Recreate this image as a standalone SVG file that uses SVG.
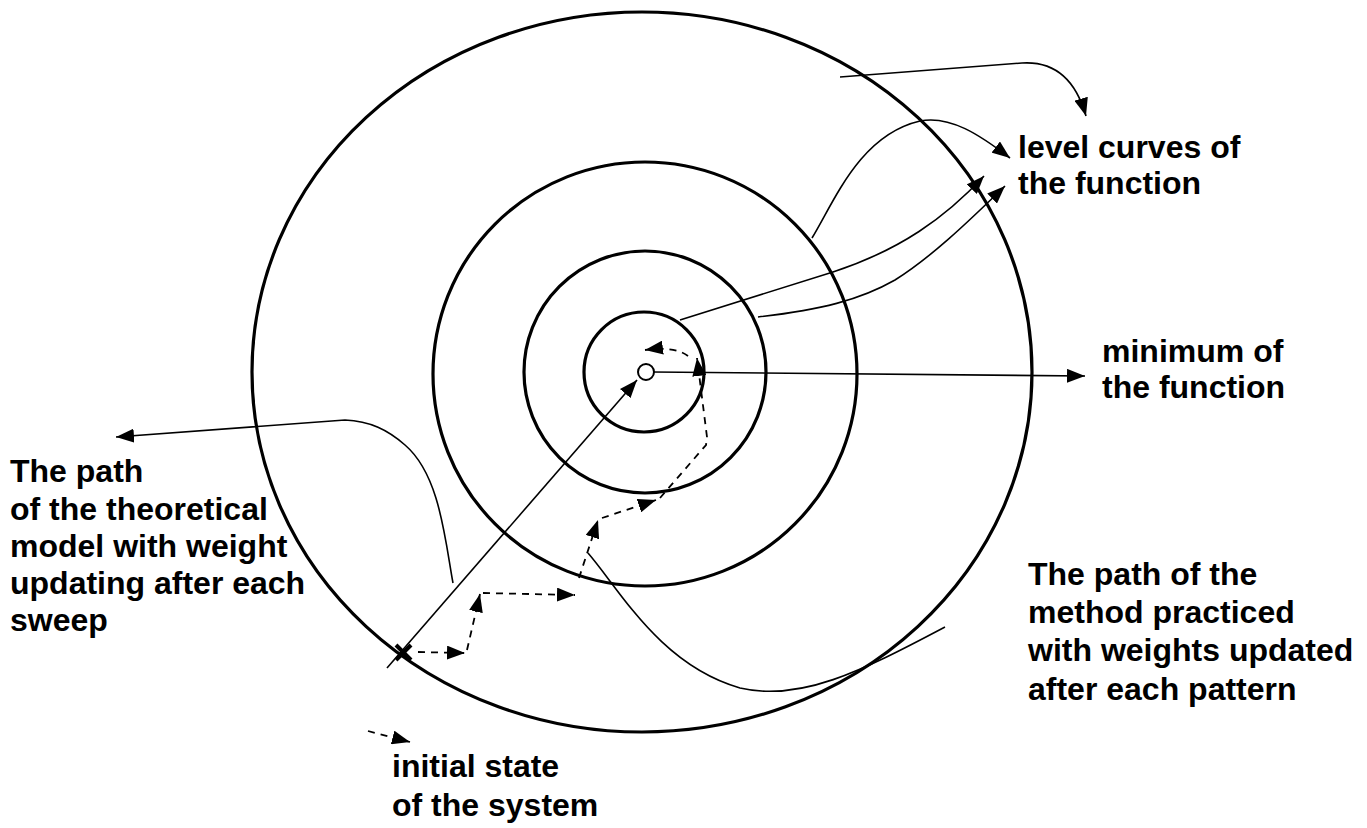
<svg xmlns="http://www.w3.org/2000/svg" width="1367" height="828" viewBox="0 0 1367 828">
<style>
.lvl{fill:none;stroke:#000;stroke-width:3.2}
.thin{fill:none;stroke:#000;stroke-width:1.6}
.dash{fill:none;stroke:#000;stroke-width:1.8;stroke-dasharray:7 6}
.lbl{font-family:"Liberation Sans",Arial,sans-serif;font-weight:bold;font-size:32px;fill:#000}
</style>
<defs>
<marker id="ah" markerUnits="userSpaceOnUse" markerWidth="20" markerHeight="14" refX="18" refY="7" orient="auto">
<path d="M0,0 L18,7 L0,14 z" fill="#000"/>
</marker>
</defs>
<rect width="1367" height="828" fill="#fff"/>
<g id="level-curves">
<g id="curve-outer"><ellipse class="lvl" cx="642" cy="372" rx="390" ry="360"/></g>
<g id="curve-3"><circle class="lvl" cx="645" cy="374" r="212"/></g>
<g id="curve-2"><circle class="lvl" cx="645" cy="372" r="121"/></g>
<g id="curve-1"><circle class="lvl" cx="644" cy="372" r="60"/></g>
</g>
<g id="minimum"><circle cx="646" cy="372" r="8" fill="#fff" stroke="#000" stroke-width="2"/></g>
<g id="initial-state">
<line x1="396" y1="645" x2="411" y2="660" stroke="#000" stroke-width="4"/>
<line x1="411" y1="645" x2="396" y2="660" stroke="#000" stroke-width="4"/>
</g>
<g id="connectors">
<path class="thin" d="M840,77 L1022,63 Q1070,60 1086,116" marker-end="url(#ah)"/>
<path class="thin" d="M812,238 C835,200 860,135 920,121 C950,115 980,135 1010,158" marker-end="url(#ah)"/>
<path class="thin" d="M680,320 L833,272 C900,250 945,218 984,176" marker-end="url(#ah)"/>
<path class="thin" d="M758,317 C820,310 860,300 895,280 C930,258 965,225 1005,186" marker-end="url(#ah)"/>
<path class="thin" d="M653,372 L1085,376" marker-end="url(#ah)"/>
<path class="thin" d="M387,668 L637,380" marker-end="url(#ah)"/>
<path class="thin" d="M453,583 C445,540 440,475 405,445 C388,430 370,421 345,420 L116,437" marker-end="url(#ah)"/>
<path class="thin" d="M588,553 C620,590 660,665 740,688 C800,702 860,672 945,627"/>
<path class="dash" d="M418,652 L465,653" marker-end="url(#ah)"/>
<path class="dash" d="M467,650 L480,594" marker-end="url(#ah)"/>
<path class="dash" d="M483,593 L575,595" marker-end="url(#ah)"/>
<path class="dash" d="M579,578 L598,520" marker-end="url(#ah)"/>
<path class="dash" d="M602,518 L656,500" marker-end="url(#ah)"/>
<path class="dash" d="M660,498 L706,445 L707,437" />
<path class="dash" d="M707,437 L697,358" marker-end="url(#ah)"/>
<path class="dash" d="M688,356 Q675,346 645,350" marker-end="url(#ah)"/>
<path class="dash" d="M368,731 L410,742" marker-end="url(#ah)"/>
</g>
<g id="label-level"><text class="lbl" x="1018" y="158">level curves of</text><text class="lbl" x="1018" y="194">the function</text></g>
<g id="label-minimum"><text class="lbl" x="1102" y="362">minimum of</text><text class="lbl" x="1102" y="398">the function</text></g>
<g id="label-theoretical"><text class="lbl" x="10" y="482">The path</text><text class="lbl" x="10" y="520">of the theoretical</text><text class="lbl" x="10" y="557">model with weight</text><text class="lbl" x="10" y="594">updating after each</text><text class="lbl" x="10" y="631">sweep</text></g>
<g id="label-practiced"><text class="lbl" x="1028" y="585">The path of the</text><text class="lbl" x="1028" y="623">method practiced</text><text class="lbl" x="1028" y="661">with weights updated</text><text class="lbl" x="1028" y="700">after each pattern</text></g>
<g id="label-initial"><text class="lbl" x="392" y="777">initial state</text><text class="lbl" x="392" y="816">of the system</text></g>
</svg>
